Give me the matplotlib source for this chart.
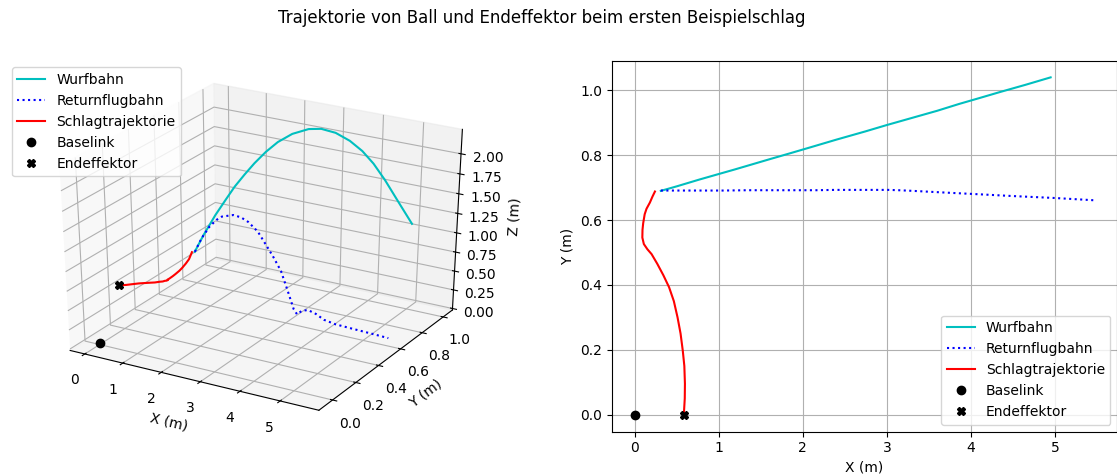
import matplotlib
matplotlib.use("Agg")
import matplotlib.pyplot as plt
from mpl_toolkits.mplot3d import Axes3D  # noqa

# ---------------- data ----------------
# Wurfbahn (incoming ball)
wurf_x = [0.31, 0.5, 0.77, 1.0, 1.19, 1.4, 1.61, 1.85, 2.10, 2.4, 2.74, 3.0, 3.30, 3.6, 3.86, 4.1, 4.35, 4.65, 4.95]
wurf_y = [0.690, 0.704, 0.725, 0.742, 0.756, 0.772, 0.788, 0.806, 0.825, 0.848, 0.873, 0.893, 0.915, 0.937, 0.958, 0.976, 0.995, 1.017, 1.040]
wurf_z = [0.54, 0.76, 1.04, 1.25, 1.42, 1.58, 1.73, 1.88, 2.01, 2.12, 2.19, 2.20, 2.16, 2.07, 1.95, 1.80, 1.60, 1.33, 1.06]

# Returnflugbahn (returned ball)
ret_x = [0.31, 0.5, 0.71, 0.9, 1.05, 1.35, 1.55, 1.74, 1.99, 2.16, 2.38, 2.59, 2.76, 2.93, 3.02,
         3.14, 3.31, 3.53, 3.75, 4.06, 4.5, 5.0, 5.47]
ret_y = [0.691, 0.691, 0.691, 0.691, 0.691, 0.692, 0.692, 0.692, 0.692, 0.692, 0.693, 0.693, 0.693, 0.693, 0.693,
         0.692, 0.690, 0.687, 0.684, 0.680, 0.674, 0.668, 0.661]
ret_z = [0.54, 0.74, 0.91, 1.02, 1.08, 1.13, 1.12, 1.08, 0.98, 0.86, 0.70, 0.53, 0.30, 0.06, 0.0,
         0.06, 0.095, 0.07, 0.02, 0.0, 0.0, 0.0, 0.0]

# Schlagtrajektorie (end effector path)
schlag_x = [0.584, 0.595, 0.597, 0.590, 0.571, 0.545, 0.509, 0.465, 0.408, 0.340, 0.268, 0.200, 0.150,
            0.108, 0.090, 0.092, 0.100, 0.118, 0.140, 0.180, 0.210, 0.240]
schlag_y = [0.000, 0.050, 0.095, 0.150, 0.198, 0.250, 0.300, 0.350, 0.393, 0.430, 0.465, 0.495, 0.510,
            0.526, 0.546, 0.570, 0.590, 0.618, 0.635, 0.654, 0.672, 0.688]
schlag_z = [0.82, 0.774, 0.738, 0.692, 0.646, 0.595, 0.544, 0.498, 0.452, 0.416, 0.375, 0.344, 0.333,
            0.312, 0.306, 0.31, 0.319, 0.338, 0.362, 0.406, 0.45, 0.53]

baselink = [0.0, 0.0, 0.0]
endeffektor = [0.584, 0.0, 0.82]

z_ticks = [0.0, 0.25, 0.5, 0.75, 1.0, 1.25, 1.5, 1.75, 2.0]

labels = ["Wurfbahn", "Returnflugbahn", "Schlagtrajektorie", "Baselink", "Endeffektor"]
title = "Trajektorie von Ball und Endeffektor beim ersten Beispielschlag"

# ---------------- figure ----------------
plt.rcParams["font.family"] = ["DejaVu Sans"]
plt.rcParams["font.size"] = 10
W, H = 1117, 475
fig = plt.figure(figsize=(W / 100, H / 100), dpi=100)

ax_w = 505.5 / W
ax_h = 371.0 / H
ax_b = (H - 431.5) / H

ax3 = fig.add_axes([4.8 / W, ax_b, ax_w, ax_h], projection="3d")
# keep the 3D panel filling its whole (non-square) box, as in the reference
ax3.apply_aspect = lambda position=None: None
ax3.set_box_aspect((1, 1, 1), zoom=0.955)
ax3.plot(wurf_x, wurf_y, wurf_z, "c-", label=labels[0])
ax3.plot(ret_x, ret_y, ret_z, "b:", label=labels[1])
ax3.plot(schlag_x, schlag_y, schlag_z, "r-", label=labels[2])
ax3.plot([baselink[0]], [baselink[1]], [baselink[2]], "ko", label=labels[3])
ax3.plot([endeffektor[0]], [endeffektor[1]], [endeffektor[2]], "kX", label=labels[4])
ax3.set_xlim(-0.39, 5.95)
ax3.set_ylim(-0.115, 1.09)
ax3.set_zlim(-0.02, 2.30)
ax3.set_zticks(z_ticks)
ax3.set_xlabel("X (m)")
ax3.set_ylabel("Y (m)")
ax3.set_zlabel("Z (m)")
ax3.legend(loc="upper left")

ax2 = fig.add_axes([611.8 / W, ax_b, ax_w, ax_h])
ax2.plot(wurf_x, wurf_y, "c-", label=labels[0])
ax2.plot(ret_x, ret_y, "b:", label=labels[1])
ax2.plot(schlag_x, schlag_y, "r-", label=labels[2])
ax2.plot([baselink[0]], [baselink[1]], "ko", label=labels[3])
ax2.plot([endeffektor[0]], [endeffektor[1]], "kX", label=labels[4])
ax2.set_xlabel("X (m)")
ax2.set_ylabel("Y (m)")
ax2.grid(True)
ax2.legend(loc="lower right")

fig.text(542 / W, 1 - 18 / H, title, ha="center", va="center", fontsize=12)

fig.savefig("out.png", dpi=100)
